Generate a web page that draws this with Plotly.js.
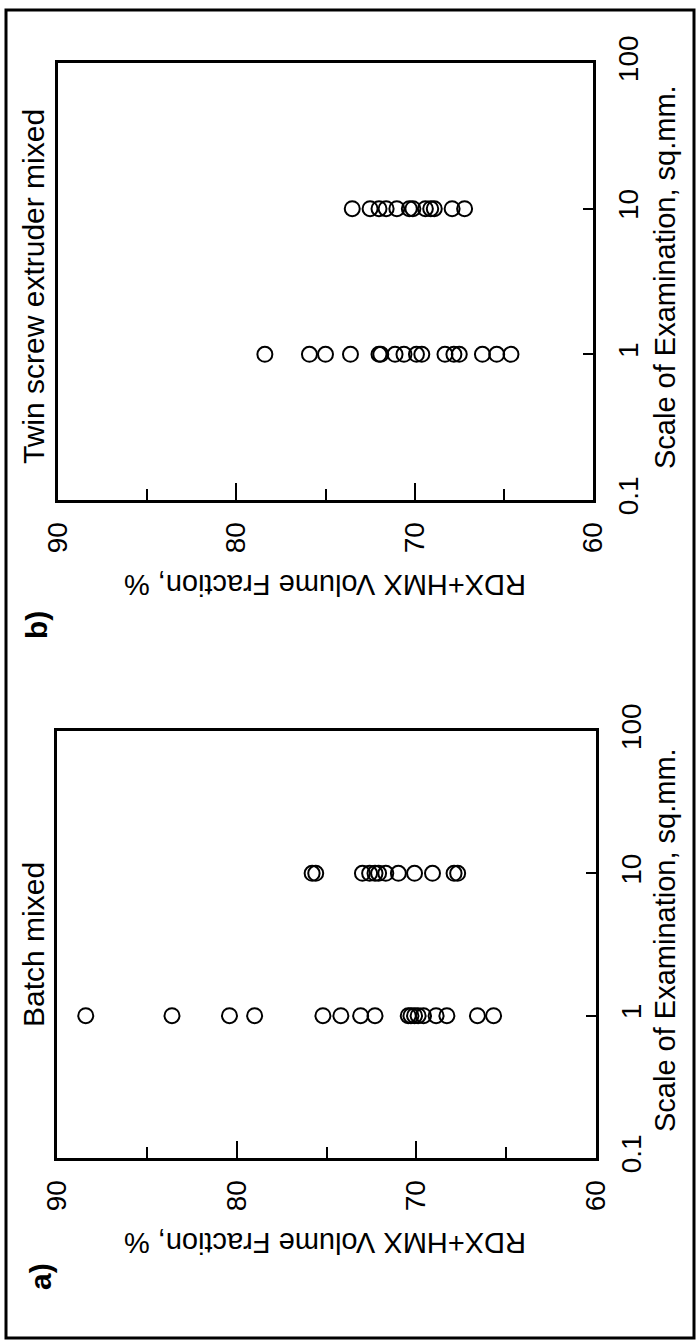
<!DOCTYPE html>
<html>
<head>
<meta charset="utf-8">
<script src="https://cdn.plot.ly/plotly-3.0.1.min.js"></script>
<style>html,body{margin:0;padding:0;background:#fff}#chart{width:697px;height:1341px}</style>
</head>
<body>
<div id="chart"></div>
<script>
// ---- data (RDX+HMX volume fraction, %) ----
var scaleSmall = 1;    // sq.mm.
var scaleLarge = 10;   // sq.mm.
var batchScale1  = [88.4, 83.6, 80.4, 79.0, 75.2, 74.2, 73.1, 72.3, 70.45, 70.3, 70.1, 69.9, 69.6, 68.9, 68.3, 66.6, 65.7];
var batchScale10 = [75.8, 75.6, 73.0, 72.6, 72.3, 72.1, 71.7, 71.0, 70.1, 69.1, 67.9, 67.7];
var twinScale1   = [78.4, 75.9, 75.0, 73.6, 72.0, 71.9, 71.1, 70.6, 69.9, 69.6, 68.3, 67.8, 67.5, 66.2, 65.4, 64.6];
var twinScale10  = [73.5, 72.5, 72.0, 71.6, 71.0, 70.3, 70.1, 69.4, 69.1, 68.9, 67.9, 67.2];
var fracTicks  = [90, 80, 70, 60];
var fracMinor  = [85, 75, 65];
var scaleTicks = [0.1, 1, 10, 100];
var scaleTickText = ['0.1', '1', '10', '100'];
var panelATitle = 'Batch mixed';
var panelBTitle = 'Twin screw extruder mixed';
var xTitle = 'RDX+HMX Volume Fraction, %';
var yTitle = 'Scale of Examination, sq.mm.';

var W = 697, H = 1341;
function px(x){return x / W;}
function py(y){return 1 - y / H;}
function rep(v, arr){return arr.map(function(){return v;});}

var FONT = 'Liberation Sans, Arial, sans-serif';
var marker = {symbol: 'circle-open', size: 15, color: '#000', line: {width: 2, color: '#000'}};

var traces = [
  {x: twinScale1,  y: rep(scaleSmall, twinScale1),  xaxis: 'x',  yaxis: 'y',  mode: 'markers', type: 'scatter', marker: marker},
  {x: twinScale10, y: rep(scaleLarge, twinScale10), xaxis: 'x',  yaxis: 'y',  mode: 'markers', type: 'scatter', marker: marker},
  {x: batchScale1,  y: rep(scaleSmall, batchScale1),  xaxis: 'x2', yaxis: 'y2', mode: 'markers', type: 'scatter', marker: marker},
  {x: batchScale10, y: rep(scaleLarge, batchScale10), xaxis: 'x2', yaxis: 'y2', mode: 'markers', type: 'scatter', marker: marker}
];

function fracAxis(dom, anchor){
  return {
    domain: dom, anchor: anchor, range: [90, 60], tickvals: fracTicks,
    ticks: 'inside', ticklen: 17, tickwidth: 2, tickcolor: '#000',
    minor: {tickvals: fracMinor, ticks: 'inside', ticklen: 11, tickwidth: 2, tickcolor: '#000', showgrid: false},
    showline: true, mirror: true, linewidth: 3, linecolor: '#000',
    showgrid: false, zeroline: false, tickangle: -90, ticklabelstandoff: 8,
    tickfont: {family: FONT, size: 28, color: '#000'}, fixedrange: true
  };
}
function scaleAxis(dom, anchor){
  return {
    domain: dom, anchor: anchor, type: 'log', range: [-1, 2], side: 'right',
    tickvals: scaleTicks, ticktext: scaleTickText,
    ticks: 'inside', ticklen: 10, tickwidth: 2, tickcolor: '#000',
    showline: true, mirror: true, linewidth: 3, linecolor: '#000',
    showgrid: false, zeroline: false, tickangle: -90, ticklabelstandoff: 8,
    tickfont: {family: FONT, size: 28, color: '#000'}, fixedrange: true
  };
}

function ann(text, x, y, angle, size, bold){
  return {text: bold ? '<b>' + text + '</b>' : text, xref: 'paper', yref: 'paper', x: px(x), y: py(y),
    xanchor: 'center', yanchor: 'middle', showarrow: false, textangle: angle,
    font: {family: FONT, size: size, color: '#000'}};
}

var layout = {
  width: W, height: H, margin: {l: 0, r: 0, t: 0, b: 0},
  paper_bgcolor: '#fff', plot_bgcolor: '#fff', showlegend: false,
  xaxis:  fracAxis([px(58), px(593)], 'y'),
  yaxis:  scaleAxis([py(500), py(63)], 'x'),
  xaxis2: fracAxis([px(57), px(596)], 'y2'),
  yaxis2: scaleAxis([py(1158), py(731)], 'x2'),
  annotations: [
    ann(panelBTitle, 33, 287, -90, 30, false),
    ann('b)', 36, 625, -90, 30, true),
    ann(xTitle, 325, 585, 180, 29, false),
    ann(yTitle, 665, 277, -90, 29, false),
    ann(panelATitle, 33, 945, -90, 30, false),
    ann('a)', 40, 1277, -90, 30, true),
    ann(xTitle, 325, 1243, 180, 29, false),
    ann(yTitle, 665, 940, -90, 29, false)
  ],
  shapes: [
    {type: 'rect', xref: 'paper', yref: 'paper', x0: px(6), x1: px(694), y0: py(1338), y1: py(10),
     line: {color: '#000', width: 3}, fillcolor: 'rgba(0,0,0,0)'}
  ]
};

Plotly.newPlot('chart', traces, layout, {displayModeBar: false, staticPlot: true});
</script>
</body>
</html>
